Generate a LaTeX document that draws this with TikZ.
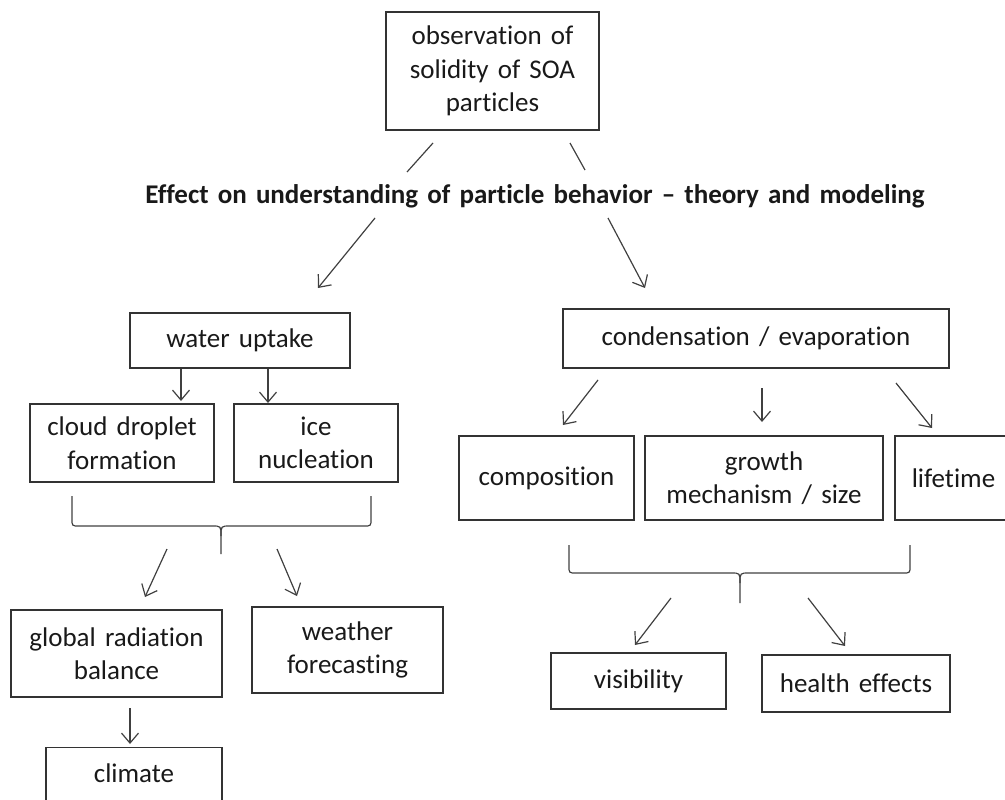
\documentclass[tikz,border=0pt]{standalone}
\usepackage{fontspec}
\setmainfont{Carlito}[Ligatures={TeX,NoCommon}, WordSpace=1.5]
\usetikzlibrary{arrows.meta}

\begin{document}
\begin{tikzpicture}[x=1pt, y=-1pt]
% Define styles
\tikzstyle{block} = [rectangle, draw=black!80, line width=1.4pt, inner sep=0pt, align=center, text=black!90, font=\fontsize{27}{33.5}\selectfont]
\tikzstyle{arrow} = [line width=1.2pt, draw=black!75, -{Straight Barb[length=10pt,width=17pt]}]
\tikzstyle{line} = [line width=1.2pt, draw=black!75]

\useasboundingbox (0,0) rectangle (1005,800);
\clip (0,0) rectangle (1005,800);

% Create nodes
\node (obs) [block, minimum width=213pt, minimum height=118pt] at (492.5,71) {observation of\\solidity of SOA\\particles};
\node (title) [font=\fontsize{27}{33}\selectfont\bfseries, text=black!90] at (535,196) {Effect on understanding of particle behavior – theory and modeling};

% Left branch
\node (water) [block, minimum width=220pt, minimum height=55pt] at (240,340.5) {water uptake};
\node (cloud) [block, minimum width=184pt, minimum height=78pt] at (122,443) {cloud droplet\\formation};
\node (ice) [block, minimum width=164pt, minimum height=78pt] at (316,443) {ice\\nucleation};
\node (radiation) [block, minimum width=211pt, minimum height=87pt] at (116.5,653.5) {global radiation\\balance};
\node (weather) [block, minimum width=191pt, minimum height=86pt] at (347.5,650) {weather\\forecasting};
\node (climate) [block, minimum width=176pt, text height=35pt, text depth=52pt, anchor=north] at (134,747) {climate};

% Right branch
\node (cond) [block, minimum width=386pt, minimum height=59pt] at (756,338.5) {condensation / evaporation};
\node (comp) [block, minimum width=175pt, minimum height=84pt] at (546.5,478) {composition};
\node (growth) [block, minimum width=238pt, minimum height=84pt] at (764,478) {growth\\mechanism / size};
\node (life) [block, minimum width=117pt, minimum height=84pt] at (953.5,478) {lifetime};
\node (vis) [block, minimum width=175pt, minimum height=56pt] at (638.5,681) {visibility};
\node (health) [block, minimum width=188pt, minimum height=57pt] at (856,683.5) {health effects};

% Braces
\draw [line] (72,496) -- (72,519) .. controls (72,526) .. (79,526) -- (212,526) .. controls (221,526) .. (221,536) -- (221,554);
\draw [line] (371,496) -- (371,519) .. controls (371,526) .. (364,526) -- (230,526) .. controls (221,526) .. (221,536);
\draw [line] (569,545) -- (569,566) .. controls (569,573) .. (576,573) -- (731,573) .. controls (740,573) .. (740,583) -- (740,603);
\draw [line] (910,545) -- (910,566) .. controls (910,573) .. (903,573) -- (749,573) .. controls (740,573) .. (740,583);

% Connector end points
\coordinate (obsL) at (433,143);  \coordinate (titleL) at (407,172);
\coordinate (obsR) at (570,143);  \coordinate (titleR) at (585,170);
\coordinate (t1) at (375,218);    \coordinate (w1) at (318,288);
\coordinate (t2) at (608,218);    \coordinate (c1) at (645,288);
\coordinate (w2) at (181,369);    \coordinate (cl1) at (181,401);
\coordinate (w3) at (268,369);    \coordinate (ic1) at (268,403);
\coordinate (b1) at (167,549);    \coordinate (r1) at (145,597);
\coordinate (b2) at (277,549);    \coordinate (we1) at (297,596);
\coordinate (r2) at (130,708);    \coordinate (cm1) at (130,744);
\coordinate (c2) at (598,380);    \coordinate (co1) at (563,425);
\coordinate (c3) at (762,388);    \coordinate (g1) at (762,422);
\coordinate (c4) at (896,383);    \coordinate (l1) at (932,428);
\coordinate (b3) at (671,598);    \coordinate (v1) at (635,645);
\coordinate (b4) at (808,598);    \coordinate (h1) at (845,646);

% Draw arrows
\draw [line] (obsL) -- (titleL);
\draw [line] (obsR) -- (titleR);
\draw [arrow] (t1) -- (w1);
\draw [arrow] (t2) -- (c1);
\draw [arrow] (w2) -- (cl1);
\draw [arrow] (w3) -- (ic1);
\draw [arrow] (b1) -- (r1);
\draw [arrow] (b2) -- (we1);
\draw [arrow] (r2) -- (cm1);
\draw [arrow] (c2) -- (co1);
\draw [arrow] (c3) -- (g1);
\draw [arrow] (c4) -- (l1);
\draw [arrow] (b3) -- (v1);
\draw [arrow] (b4) -- (h1);
\end{tikzpicture}
\end{document}
